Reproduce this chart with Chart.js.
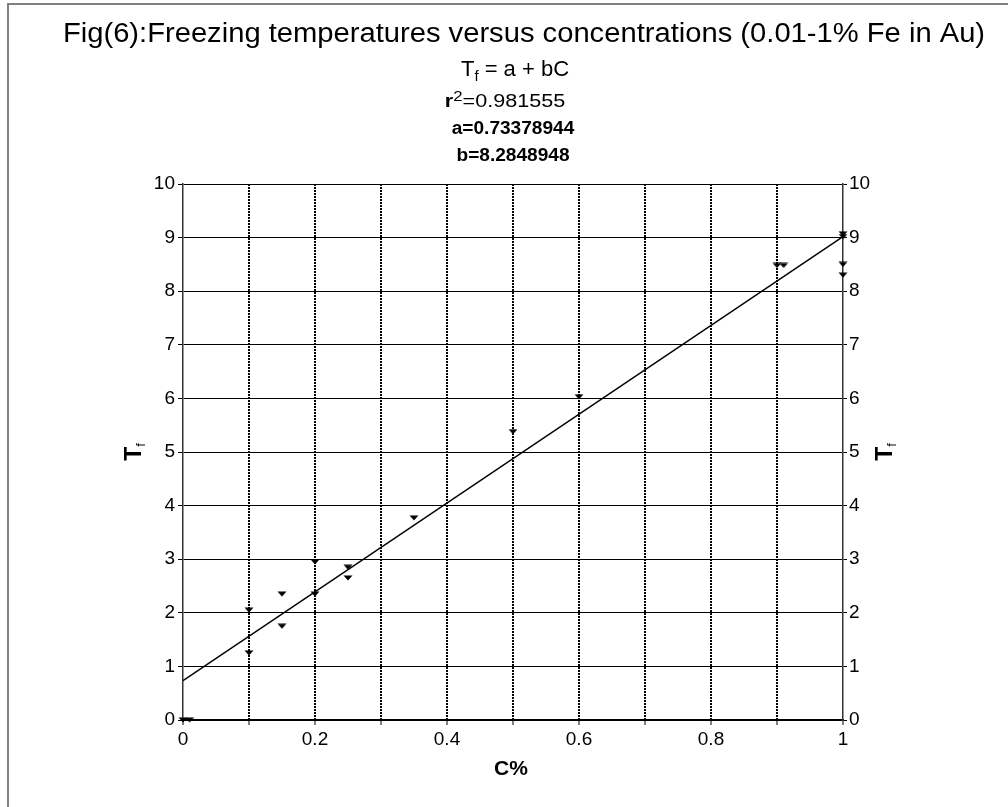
<!DOCTYPE html>
<html>
<head>
<meta charset="utf-8">
<script src="https://cdn.jsdelivr.net/npm/chart.js@4/dist/chart.umd.min.js"></script>
<style>
  body { margin: 0; background: #fff; }
  canvas { display: block; }
</style>
</head>
<body>
<canvas id="fig6" width="1008" height="807"></canvas>
<script>
// measured points: concentration (%) and freezing temperature
var concentrations = [0, 0.01, 0.1, 0.1, 0.15, 0.15, 0.2, 0.2, 0.25, 0.25, 0.35, 0.5, 0.6, 0.9, 0.91, 1, 1, 1, 1];
var freezingTemps = [0, 0, 2.05, 1.25, 2.35, 1.75, 2.95, 2.35, 2.85, 2.65, 3.77, 5.38, 6.03, 8.48, 8.48, 9.07, 9.02, 8.5, 8.3];

// fit Tf = a + bC as printed on the chart
var fitA = 0.73378944;
var fitB = 8.2848948;
var rSquared = '0.981555';
var fitRange = [0, 1];

var xTickLabels = ['0', '', '0.2', '', '0.4', '', '0.6', '', '0.8', '', '1'];
var yTickLabels = ['0', '1', '2', '3', '4', '5', '6', '7', '8', '9', '10'];

var FONT = '"Liberation Sans", Arial, sans-serif';

// flat downward triangle marker
var marker = document.createElement('canvas');
marker.width = 10;
marker.height = 6;
var mctx = marker.getContext('2d');
mctx.fillStyle = '#000';
mctx.beginPath();
mctx.moveTo(0.5, 0.5);
mctx.lineTo(9.5, 0.5);
mctx.lineTo(5, 5.5);
mctx.closePath();
mctx.fill();

// draws a row of text pieces centred on cx, optionally stretched sideways
function drawRuns(ctx, runs, cx, cy, sx) {
    sx = sx || 1;
    var total = 0;
    runs.forEach(function (r) {
        ctx.font = r.font;
        r.w = ctx.measureText(r.text).width;
        total += r.w;
    });
    ctx.save();
    ctx.translate(cx, cy);
    ctx.scale(sx, 1);
    var x = -total / 2;
    ctx.textAlign = 'left';
    ctx.textBaseline = 'alphabetic';
    runs.forEach(function (r) {
        ctx.font = r.font;
        ctx.fillText(r.text, x, r.dy || 0);
        x += r.w;
    });
    ctx.restore();
}

var textPlugin = {
    id: 'textPlugin',
    beforeDraw: function (chart) {
        var ctx = chart.ctx;
        ctx.save();
        ctx.strokeStyle = '#808080';
        ctx.lineWidth = 2;
        ctx.beginPath();
        ctx.moveTo(8, 820);
        ctx.lineTo(8, 4);
        ctx.lineTo(1020, 4);
        ctx.stroke();
        ctx.restore();
    },
    afterDraw: function (chart) {
        var ctx = chart.ctx;
        var area = chart.chartArea;
        var mid = (area.left + area.right) / 2;
        ctx.save();
        ctx.fillStyle = '#000';

        drawRuns(ctx, [{text: 'Fig(6):Freezing temperatures versus concentrations (0.01-1% Fe in Au)', font: '27px ' + FONT}], 524, 42, 1.08);
        drawRuns(ctx, [
            {text: 'T', font: '22px ' + FONT},
            {text: 'f', font: '15px ' + FONT, dy: 5},
            {text: ' = a + bC', font: '22px ' + FONT}
        ], mid + 2, 76);
        drawRuns(ctx, [
            {text: 'r', font: 'bold 18px ' + FONT},
            {text: '2', font: '14px ' + FONT, dy: -6},
            {text: '=' + rSquared, font: '18px ' + FONT}
        ], mid - 8, 107, 1.2);
        drawRuns(ctx, [{text: 'a=' + fitA.toFixed(8), font: 'bold 18px ' + FONT}], mid, 134, 1.06);
        drawRuns(ctx, [{text: 'b=' + fitB.toFixed(7), font: 'bold 18px ' + FONT}], mid, 161, 1.06);

        drawRuns(ctx, [{text: 'C%', font: 'bold 21px ' + FONT}], mid - 2, 775);

        var cy = (area.top + area.bottom) / 2;
        [133, 884].forEach(function (x) {
            ctx.save();
            ctx.translate(x, cy);
            ctx.rotate(-Math.PI / 2);
            drawRuns(ctx, [
                {text: 'T', font: 'bold 23px ' + FONT},
                {text: 'f', font: '13px ' + FONT, dy: 4}
            ], 0, 8);
            ctx.restore();
        });
        ctx.restore();
    }
};

var points = concentrations.map(function (c, i) {
    return {x: c, y: freezingTemps[i]};
});
var fitLine = fitRange.map(function (c) {
    return {x: c, y: fitA + fitB * c};
});

new Chart(document.getElementById('fig6'), {
    type: 'scatter',
    data: {
        datasets: [{
            label: 'Tf',
            data: points,
            pointStyle: marker,
            pointRadius: 5,
            backgroundColor: '#000',
            borderColor: '#000',
            clip: false
        }, {
            type: 'line',
            label: 'fit',
            data: fitLine,
            borderColor: '#000',
            borderWidth: 1.5,
            pointRadius: 0,
            fill: false
        }]
    },
    options: {
        responsive: false,
        animation: false,
        layout: {padding: {top: 184, left: 0, right: 0, bottom: 0}},
        plugins: {
            legend: {display: false},
            tooltip: {enabled: false},
            title: {display: false}
        },
        scales: {
            x: {
                type: 'linear',
                min: 0,
                max: 1,
                afterFit: function (s) { s.height = 87; },
                afterBuildTicks: function (s) {
                    s.ticks = xTickLabels.map(function (l, i) { return {value: i / 10}; });
                },
                ticks: {
                    color: '#000',
                    font: {family: FONT, size: 19},
                    padding: 3,
                    maxRotation: 0,
                    autoSkip: false,
                    callback: function (v, i) { return xTickLabels[i]; }
                },
                grid: {
                    // no dotted line over the two side axes
                    color: function (c) {
                        return (c.index === 0 || c.index === xTickLabels.length - 1) ? 'rgba(0,0,0,0)' : '#000';
                    },
                    lineWidth: 2,
                    tickColor: '#000',
                    tickLength: 5,
                    tickWidth: 1
                },
                border: {display: true, color: '#000', width: 1.5, dash: [2, 1]}
            },
            y: {
                min: 0,
                max: 10,
                position: 'left',
                afterFit: function (s) { s.width = 183; },
                ticks: {
                    stepSize: 1,
                    color: '#000',
                    font: {family: FONT, size: 19},
                    padding: 3,
                    callback: function (v, i) { return yTickLabels[i]; }
                },
                grid: {
                    color: '#000',
                    lineWidth: 1,
                    tickColor: '#000',
                    tickLength: 5
                },
                border: {display: true, color: '#333', width: 1.5}
            },
            y2: {
                min: 0,
                max: 10,
                position: 'right',
                afterFit: function (s) { s.width = 165; },
                ticks: {
                    stepSize: 1,
                    color: '#000',
                    font: {family: FONT, size: 19},
                    padding: 2,
                    callback: function (v, i) { return yTickLabels[i]; }
                },
                grid: {
                    drawOnChartArea: false,
                    tickColor: '#000',
                    tickLength: 4
                },
                border: {display: true, color: '#333', width: 1.5}
            }
        }
    },
    plugins: [textPlugin]
});
</script>
</body>
</html>
